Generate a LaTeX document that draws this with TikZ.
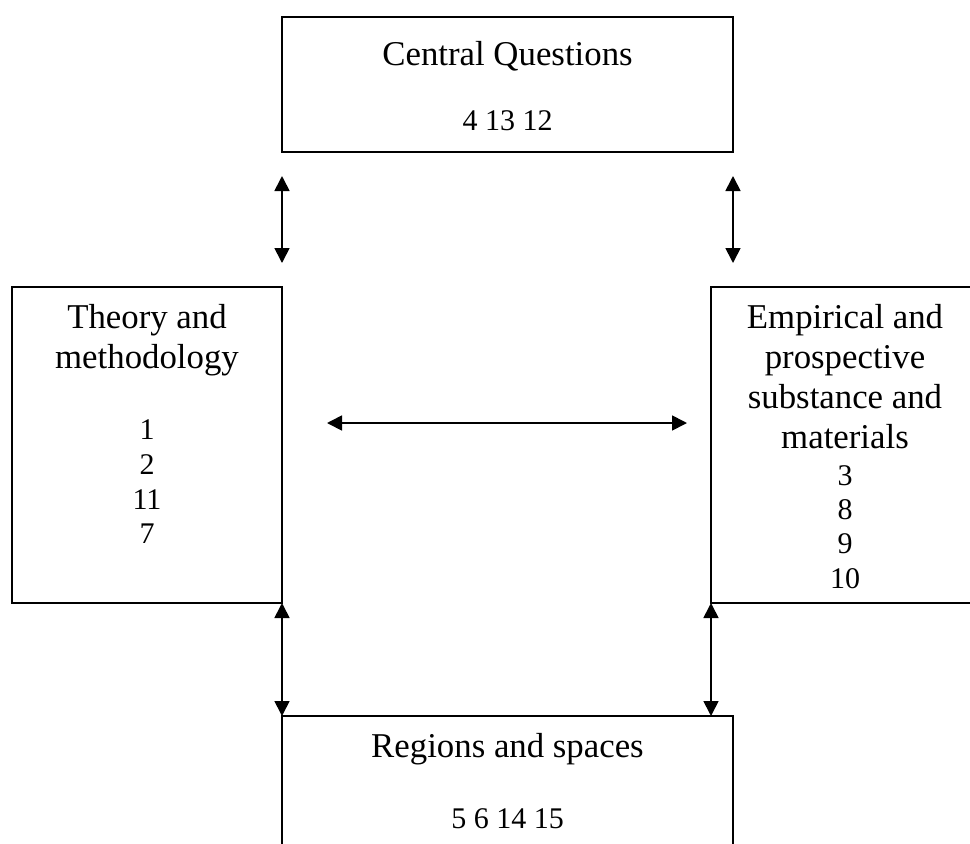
\documentclass[tikz,border=0pt]{standalone}
\usepackage{fontspec}
\setmainfont{Liberation Serif}
\usetikzlibrary{arrows.meta}
\tikzset{
  box/.style={draw=black, line width=1.7pt, rectangle, outer sep=0pt, inner sep=0pt, anchor=north west},
  ttl/.style={anchor=base, inner sep=0pt, font=\fontsize{34.8pt}{40pt}\selectfont},
  num/.style={anchor=base, inner sep=0pt, font=\fontsize{30pt}{35pt}\selectfont},
  arr/.style={line width=1.7pt, {Triangle[length=15pt,width=15pt]}-{Triangle[length=15pt,width=15pt]}}
}
\begin{document}
\begin{tikzpicture}[x=1pt,y=-1pt]
\useasboundingbox (0,0) rectangle (970,844);
\clip (0,0) rectangle (970,844);
% boxes
\node[box, minimum width=451pt, minimum height=135pt] (topbox) at (282,17) {};
\node[box, minimum width=270pt, minimum height=316pt] (leftbox) at (12,287) {};
\node[box, minimum width=268pt, minimum height=316pt] (rightbox) at (711,287) {};
\node[box, minimum width=451pt, minimum height=160pt] (botbox) at (282,716) {};
% top texts
\node[ttl] (t1) at (507.5,65) {Central Questions};
\node[num] (t2) at (507.5,130) {4 13 12};
% left texts
\node[ttl] (l1) at (147,328) {Theory and};
\node[ttl] (l2) at (147,368) {methodology};
\node[num] (l3) at (147,439) {1};
\node[num] (l4) at (147,474) {2};
\node[num] (l5) at (147,509) {11};
\node[num] (l6) at (147,543) {7};
% right texts
\node[ttl] (r1) at (845,328) {Empirical and};
\node[ttl] (r2) at (845,368) {prospective};
\node[ttl] (r3) at (845,408) {substance and};
\node[ttl] (r4) at (845,448) {materials};
\node[num] (r5) at (845,485) {3};
\node[num] (r6) at (845,519) {8};
\node[num] (r7) at (845,553) {9};
\node[num] (r8) at (845,588) {10};
% bottom texts
\node[ttl] (b1) at (507.5,757) {Regions and spaces};
\node[num] (b2) at (507.5,828) {5 6 14 15};
% connectors
\coordinate (hL) at (327,423);
\coordinate (hR) at (687,423);
\draw[arr, shorten <=24pt, shorten >=24pt] (topbox.south west) -- (leftbox.north east);
\draw[arr, shorten <=24pt, shorten >=24pt] (topbox.south east) -- (topbox.south east |- rightbox.north);
\draw[arr] (hL) -- (hR);
\draw[arr] (leftbox.south east) -- (botbox.north west);
\draw[arr] (rightbox.south west) -- (rightbox.south west |- botbox.north);
\end{tikzpicture}
\end{document}
